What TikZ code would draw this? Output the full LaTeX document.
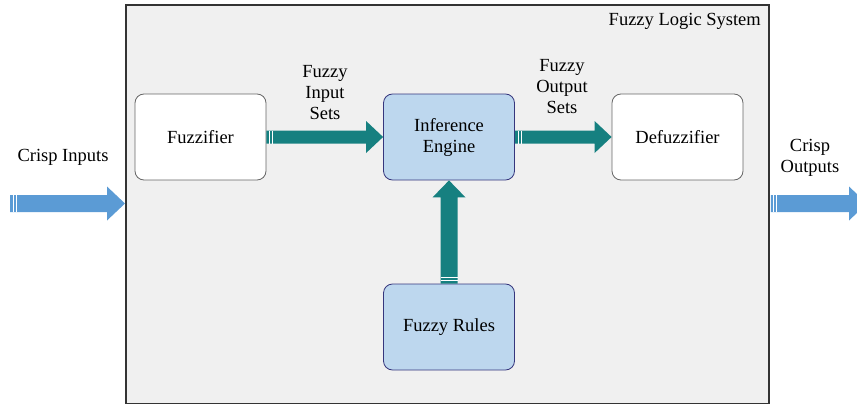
\documentclass[tikz,border=0pt]{standalone}
\usepackage{fontspec}
\setmainfont{Liberation Serif}
\usetikzlibrary{calc}
\definecolor{tealc}{HTML}{168080}
\definecolor{bluec}{HTML}{5B9BD5}
\definecolor{lblue}{HTML}{BDD7EE}
\definecolor{bgc}{HTML}{F0F0F0}
\tikzset{
  blk/.style={draw=gray!80!black, line width=0.8pt, rounded corners=9pt, minimum width=131pt, minimum height=86pt, font=\fontsize{18.5}{21}\selectfont, align=center},
  wblk/.style={blk, fill=white},
  bblk/.style={blk, fill=lblue, draw=gray!60!blue!70!black},
  lbl/.style={font=\fontsize{18.5}{21}\selectfont, align=center, inner sep=0pt},
  stripe/.style={white, line width=0.7pt}
}
\begin{document}
\begin{tikzpicture}[x=1pt,y=-1pt]
\useasboundingbox (0,0) rectangle (857,404);
\clip (0,0) rectangle (857,404);
% main box
\node[draw=black!80, line width=1.8pt, fill=bgc, minimum width=643pt, minimum height=399pt, inner sep=0pt, anchor=north west] (fls) at (125,4) {};
\node[lbl, anchor=base east] (flsl) at (761,26) {Fuzzy Logic System};
% blocks
\node[wblk] (fz) at (200.5,137) {Fuzzifier};
\node[bblk] (ie) at (449,137) {Inference\\Engine};
\node[wblk] (dz) at (677.5,137) {Defuzzifier};
\node[bblk] (fr) at (449,327) {Fuzzy Rules};
% teal arrow fuzzifier -> inference
\fill[tealc] ($(fz.east)+(0,-6.5)$) -- ($(ie.west)+(-17,-6.5)$) -- ($(ie.west)+(-17,-16)$) -- ($(ie.west)+(0,0)$) -- ($(ie.west)+(-17,16)$) -- ($(ie.west)+(-17,6.5)$) -- ($(fz.east)+(0,6.5)$) -- cycle;
\draw[stripe] ($(fz.east)+(3,-6.5)$) -- ($(fz.east)+(3,6.5)$);
\draw[stripe] ($(fz.east)+(6,-6.5)$) -- ($(fz.east)+(6,6.5)$);
% teal arrow inference -> defuzzifier
\fill[tealc] ($(ie.east)+(0,-6.5)$) -- ($(dz.west)+(-17,-6.5)$) -- ($(dz.west)+(-17,-16)$) -- ($(dz.west)+(0,0)$) -- ($(dz.west)+(-17,16)$) -- ($(dz.west)+(-17,6.5)$) -- ($(ie.east)+(0,6.5)$) -- cycle;
\draw[stripe] ($(ie.east)+(3,-6.5)$) -- ($(ie.east)+(3,6.5)$);
\draw[stripe] ($(ie.east)+(6,-6.5)$) -- ($(ie.east)+(6,6.5)$);
% teal arrow rules -> inference
\fill[tealc] ($(fr.north)+(-8.5,0)$) -- ($(ie.south)+(-8.5,17)$) -- ($(ie.south)+(-16.5,17)$) -- (ie.south) -- ($(ie.south)+(16.5,17)$) -- ($(ie.south)+(8.5,17)$) -- ($(fr.north)+(8.5,0)$) -- cycle;
\draw[stripe] ($(fr.north)+(-8.5,-3)$) -- ($(fr.north)+(8.5,-3)$);
\draw[stripe] ($(fr.north)+(-8.5,-6)$) -- ($(fr.north)+(8.5,-6)$);
% crisp input arrow
\coordinate (ci) at (10,203.5);
\fill[bluec] ($(ci)+(0,-8.5)$) -- ($(fls.west |- ci)+(-18,-8.5)$) -- ($(fls.west |- ci)+(-18,-17)$) -- (fls.west |- ci) -- ($(fls.west |- ci)+(-18,17)$) -- ($(fls.west |- ci)+(-18,8.5)$) -- ($(ci)+(0,8.5)$) -- cycle;
\draw[stripe] ($(ci)+(3,-8.5)$) -- ($(ci)+(3,8.5)$);
\draw[stripe] ($(ci)+(6,-8.5)$) -- ($(ci)+(6,8.5)$);
% crisp output arrow
\coordinate (co) at (867,203.5);
\fill[bluec] ($(fls.east |- co)+(1,-8.5)$) -- ($(co)+(-18,-8.5)$) -- ($(co)+(-18,-17)$) -- (co) -- ($(co)+(-18,17)$) -- ($(co)+(-18,8.5)$) -- ($(fls.east |- co)+(1,8.5)$) -- cycle;
\draw[stripe] ($(fls.east |- co)+(4,-8.5)$) -- ($(fls.east |- co)+(4,8.5)$);
\draw[stripe] ($(fls.east |- co)+(7,-8.5)$) -- ($(fls.east |- co)+(7,8.5)$);
% labels
\node[lbl] (cil) at (63,157) {Crisp Inputs};
\node[lbl] (col) at (810,158) {Crisp\\Outputs};
\node[lbl] (fisl) at (325,93) {Fuzzy\\Input\\Sets};
\node[lbl] (fosl) at (562,87) {Fuzzy\\Output\\Sets};
\end{tikzpicture}
\end{document}
